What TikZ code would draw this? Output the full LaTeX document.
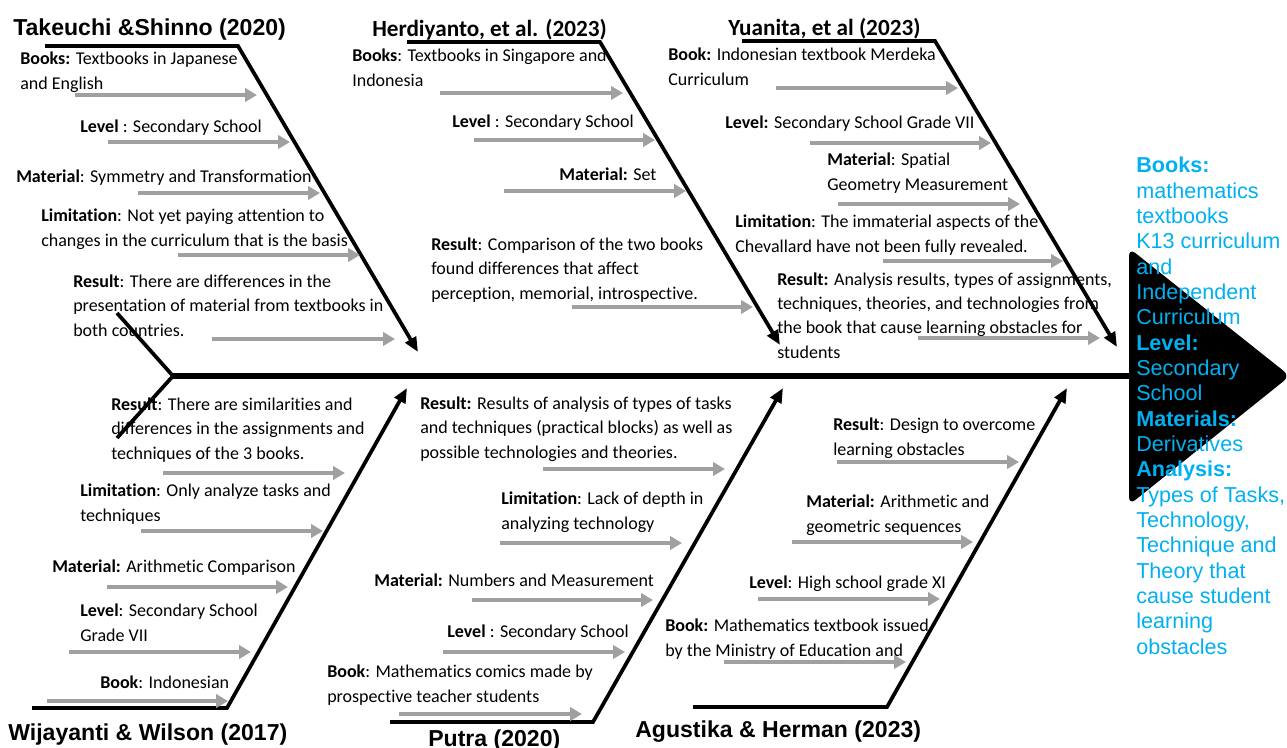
\documentclass[tikz,border=0pt]{standalone}
\usepackage{fontspec}
\setmainfont{Carlito}[Ligatures={NoCommon}]
\newfontfamily\arialfont{Liberation Sans}
\usetikzlibrary{arrows.meta}
\definecolor{garr}{RGB}{160,160,160}
\definecolor{bluetxt}{RGB}{0,176,240}
\tikzset{
  body/.style={anchor=base west, align=left, inner sep=0pt, font=\fontsize{13.5}{18.2}\selectfont},
  hdrA/.style={anchor=base west, inner sep=0pt, font=\arialfont\bfseries\fontsize{17.3}{20}\selectfont},
  hdrC/.style={anchor=base west, inner sep=0pt, font=\bfseries\fontsize{17.4}{20}\selectfont},
  bluebox/.style={anchor=base west, align=left, inner sep=0pt, text=bluetxt, font=\arialfont\fontsize{16.2}{19}\selectfont},
  bone/.style={line width=2.8pt, -{Triangle[length=11pt,width=9pt]}},
  garrow/.style={draw=garr, line width=2.4pt, -{Triangle[length=9pt,width=10pt]}},
  spine/.style={line width=4.8pt},
  tail/.style={line width=2.8pt}
}
\begin{document}
\begin{tikzpicture}[x=0.75pt,y=-0.75pt]
\useasboundingbox (0,0) rectangle (1287,747);
% head
\fill[rounded corners=6pt] (1290,376) -- (1129,248) -- (1129,505) -- cycle;
% spine and tail
\coordinate (sp0) at (173,376);
\coordinate (sp1) at (1135,376);
\coordinate (tl1) at (117,313);
\coordinate (tl2) at (117,438);
\draw[spine] (sp0) -- (sp1);
\draw[tail] (tl1) -- (sp0) -- (tl2);
% bones top
\coordinate (b1a) at (45,46);  \coordinate (b1b) at (238,46);  \coordinate (b1c) at (418,352);
\coordinate (b2a) at (407,42); \coordinate (b2b) at (600,42);  \coordinate (b2c) at (780,345);
\coordinate (b3a) at (742,41); \coordinate (b3b) at (935,41);  \coordinate (b3c) at (1117,347);
% bones bottom
\coordinate (b4a) at (32,708);  \coordinate (b4b) at (227,708); \coordinate (b4c) at (407,388);
\coordinate (b5a) at (390,722); \coordinate (b5b) at (593,722); \coordinate (b5c) at (783,388);
\coordinate (b6a) at (693,707); \coordinate (b6b) at (887,707); \coordinate (b6c) at (1067,388);
\foreach \i in {1,...,6}{
  \draw[bone] (b\i a) -- (b\i b) -- (b\i c);
}
% gray arrows
\foreach \n/\xa/\xb/\y in {
  1/75/257/95, 2/108/290/142, 3/138/320/193, 4/178/360/255, 5/212/395/339,
  6/440/623/93, 7/474/655/140, 8/504/686/191, 9/572/753/307,
  10/776/958/88, 11/810/991/143, 12/838/1020/204, 13/883/1063/261, 14/918/1100/338,
  15/163/345/473, 16/141/323/531, 17/107/288/587, 18/69/251/652, 19/47/228/701,
  20/543/725/469, 21/500/682/543, 22/472/653/600, 23/443/625/652, 24/399/582/714,
  25/837/1019/462, 26/792/973/542, 27/758/940/599, 28/724/906/662}{
  \coordinate (g\n s) at (\xa,\y);
  \coordinate (g\n e) at (\xb,\y);
  \draw[garrow] (g\n s) -- (g\n e);
}
% Takeuchi
\node[hdrA] (h1) at (13,35) {Takeuchi \&Shinno (2020)};
\node[body] (t1) at (20,89) {\textbf{Books:} Textbooks in Japanese\\and English};
\node[body] (t2) at (80,132) {\textbf{Level} : Secondary School};
\node[body] (t3) at (16,182) {\textbf{Material}: Symmetry and Transformation};
\node[body] (t4) at (41,246) {\textbf{Limitation}: Not yet paying attention to\\changes in the curriculum that is the basis};
\node[body] (t5) at (73,336) {\textbf{Result}: There are differences in the\\presentation of material from textbooks in\\both countries.};
% Herdiyanto
\node[hdrC] (h2) at (372,36) {Herdiyanto, et al. (2023)};
\node[body] (d1) at (352,86) {\textbf{Books}: Textbooks in Singapore and\\Indonesia};
\node[body] (d2) at (452,127) {\textbf{Level} : Secondary School};
\node[body] (d3) at (559,180) {\textbf{Material:} Set};
\node[body] (d4) at (431,299) {\textbf{Result}: Comparison of the two books\\found differences that affect\\perception, memorial, introspective.};
% Yuanita
\node[hdrC] (h3) at (728,35) {Yuanita, et al (2023)};
\node[body] (y1) at (668,85) {\textbf{Book:} Indonesian textbook Merdeka\\Curriculum};
\node[body] (y2) at (725,128) {\textbf{Level:} Secondary School Grade VII};
\node[body] (y3) at (827,190) {\textbf{Material}: Spatial\\Geometry Measurement};
\node[body] (y4) at (735,252) {\textbf{Limitation}: The immaterial aspects of the\\Chevallard have not been fully revealed.};
\node[body] (y5) at (777,358) {\textbf{Result:} Analysis results, types of assignments,\\techniques, theories, and technologies from\\the book that cause learning obstacles for\\students};
% Wijayanti
\node[hdrA] (h4) at (8,740) {Wijayanti \& Wilson (2017)};
\node[body] (w1) at (111,459) {\textbf{Result}: There are similarities and\\differences in the assignments and\\techniques of the 3 books.};
\node[body] (w2) at (80,521) {\textbf{Limitation}: Only analyze tasks and\\techniques};
\node[body] (w3) at (52,572) {\textbf{Material:} Arithmetic Comparison};
\node[body] (w4) at (80,641) {\textbf{Level}: Secondary School\\Grade VII};
\node[body] (w5) at (100,688) {\textbf{Book}: Indonesian};
% Putra
\node[hdrA] (h5) at (428,746) {Putra (2020)};
\node[body] (p1) at (420,458) {\textbf{Result:} Results of analysis of types of tasks\\and techniques (practical blocks) as well as\\possible technologies and theories.};
\node[body] (p2) at (501,529) {\textbf{Limitation}: Lack of depth in\\analyzing technology};
\node[body] (p3) at (374,586) {\textbf{Material:} Numbers and Measurement};
\node[body] (p4) at (447,637) {\textbf{Level} : Secondary School};
\node[body] (p5) at (327,702) {\textbf{Book}: Mathematics comics made by\\prospective teacher students};
% Agustika
\node[hdrA] (h6) at (635,737) {Agustika \& Herman (2023)};
\node[body] (a1) at (833,455) {\textbf{Result}: Design to overcome\\learning obstacles};
\node[body] (a2) at (806,532) {\textbf{Material:} Arithmetic and\\geometric sequences};
\node[body] (a3) at (749,588) {\textbf{Level}: High school grade XI};
\node[body] (a4) at (665,656) {\textbf{Book:} Mathematics textbook issued\\by the Ministry of Education and};
% outcome
\node[bluebox] (out) at (1136,654) {\textbf{Books:}\\mathematics\\textbooks\\K13 curriculum\\and\\Independent\\Curriculum\\\textbf{Level:}\\Secondary\\School\\\textbf{Materials:}\\Derivatives\\\textbf{Analysis:}\\Types of Tasks,\\Technology,\\Technique and\\Theory that\\cause student\\learning\\obstacles};
\end{tikzpicture}
\end{document}
